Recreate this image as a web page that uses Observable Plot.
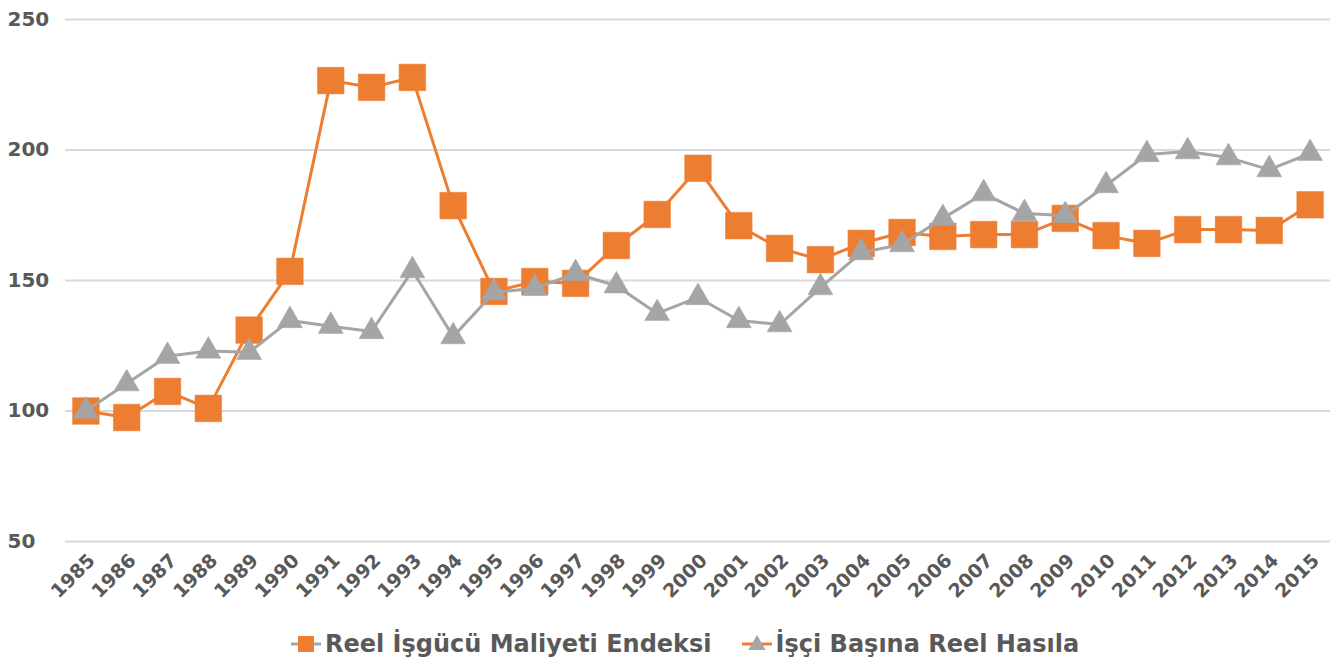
<!DOCTYPE html>
<html>
<head>
<meta charset="utf-8">
<script src="https://cdn.jsdelivr.net/npm/d3@7"></script>
<script src="https://cdn.jsdelivr.net/npm/@observablehq/plot@0.6"></script>
<style>
  html, body { margin: 0; padding: 0; background: #fff; }
  #chart { width: 1334px; height: 610px; }
  .legend { display: flex; justify-content: center; gap: 30px; font-family: "DejaVu Sans", Verdana, sans-serif; font-weight: bold; font-size: 24px; line-height: 28px; color: #595959; margin-top: 20px; margin-left: 36px; width: 1298px; }
  .legend span.item { display: inline-flex; align-items: center; gap: 4px; }
</style>
</head>
<body>
<div id="chart"></div>
<script>
const years = [1985,1986,1987,1988,1989,1990,1991,1992,1993,1994,1995,1996,1997,1998,1999,2000,2001,2002,2003,2004,2005,2006,2007,2008,2009,2010,2011,2012,2013,2014,2015];
const laborCost = [100,97.5,107.5,101,131,153.5,226.6,224,227.8,178.7,145.8,149.6,148.9,163.4,175.3,193,171,162.3,158,164.2,168.4,166.9,167.6,167.6,173.8,167.2,164.2,169.5,169.5,169.2,179];
const outputPerWorker = [100,110.5,121,123,122.5,134.7,132.5,130.5,153.8,128.5,145.4,147,152.7,148,137.4,143.5,134.7,133.1,147.3,160.7,163.8,173.8,183.3,175.7,174.9,186.4,198.3,199.4,197.1,192.5,198.7];
const yTicks = [50,100,150,200,250];
const seriesNames = ["Reel İşgücü Maliyeti Endeksi", "İşçi Başına Reel Hasıla"];
const orange = "#ED7D31", grey = "#A5A5A5";

const dataA = years.map((y, i) => ({year: String(y), value: laborCost[i]}));
const dataB = years.map((y, i) => ({year: String(y), value: outputPerWorker[i]}));

const chart = Plot.plot({
  width: 1334,
  height: 610,
  marginTop: 19,
  marginBottom: 69,
  marginLeft: 65,
  marginRight: 4,
  style: {fontFamily: "DejaVu Sans, Verdana, sans-serif", fontWeight: "bold", color: "#595959", background: "#fff"},
  x: {type: "point", domain: years.map(String), padding: 0.5, round: false, label: null},
  y: {domain: [50, 250], ticks: yTicks, label: null},
  marks: [
    Plot.gridY(yTicks, {stroke: "#d9d9d9", strokeOpacity: 1, strokeWidth: 2}),
    Plot.axisY(yTicks, {tickSize: 0, tickPadding: 0, fontSize: 20, textAnchor: "start", dx: -58, fill: "#595959", fontWeight: "bold"}),
    Plot.axisX({tickSize: 0, tickRotate: -45, fontSize: 19, fill: "#595959", fontWeight: "bold", dx: 6, dy: 4}),
    Plot.line(dataA, {x: "year", y: "value", stroke: orange, strokeWidth: 3}),
    Plot.dot(dataA, {x: "year", y: "value", symbol: "square", r: 15, fill: orange, stroke: orange, strokeWidth: 0.5}),
    Plot.line(dataB, {x: "year", y: "value", stroke: grey, strokeWidth: 3}),
    Plot.dot(dataB, {x: "year", y: "value", symbol: "triangle", r: 9.3, fill: grey, stroke: grey, strokeWidth: 0.5})
  ]
});
document.getElementById("chart").appendChild(chart);

function icon(lineColor, markerColor, shape) {
  const w = 30, h = 24;
  const svg = d3.create("svg").attr("width", w).attr("height", h);
  svg.append("line").attr("x1", 0).attr("x2", w).attr("y1", h/2).attr("y2", h/2).attr("stroke", lineColor).attr("stroke-width", 3);
  if (shape === "square") svg.append("rect").attr("x", 7).attr("y", 4).attr("width", 16).attr("height", 16).attr("fill", markerColor);
  else svg.append("path").attr("d", d3.symbol(d3.symbolTriangle, 130)()).attr("transform", `translate(${w/2},${h/2+1})`).attr("fill", markerColor);
  return svg.node();
}
const legend = d3.select("body").append("div").attr("class", "legend");
const i1 = legend.append("span").attr("class", "item");
i1.node().appendChild(icon(grey, orange, "square"));
i1.append("span").text(seriesNames[0]);
const i2 = legend.append("span").attr("class", "item");
i2.node().appendChild(icon(orange, grey, "triangle"));
i2.append("span").text(seriesNames[1]);
</script>
</body>
</html>
